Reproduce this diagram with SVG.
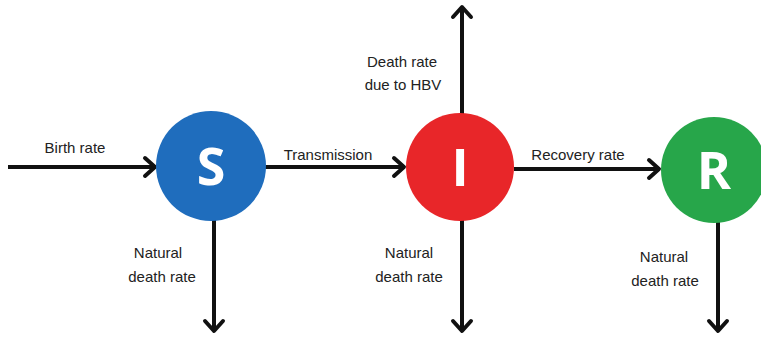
<svg xmlns="http://www.w3.org/2000/svg" width="761" height="338" viewBox="0 0 761 338">
<style>
.lbl{font-family:"Liberation Sans","Open Sans",Arial,sans-serif;font-size:15px;fill:#222;text-anchor:middle}
.node-letter{font-family:"Open Sans","Liberation Sans",Arial,sans-serif;font-weight:bold;font-size:52px;fill:#fff;text-anchor:middle}
.conn{stroke:#111;stroke-width:4;fill:none}
</style>
<defs>
<marker id="arr" viewBox="-14 -12 16 24" markerWidth="16" markerHeight="24" refX="-1" refY="0" orient="auto" markerUnits="userSpaceOnUse">
<path d="M-11,-9 L-1,0 L-11,9" stroke="#111" stroke-width="4" fill="none" stroke-linecap="round" stroke-linejoin="round"/>
</marker>
</defs>
<rect width="761" height="338" fill="#fff"/>
<g id="connectors">
<line class="conn" x1="8" y1="167" x2="155" y2="167" marker-end="url(#arr)"/>
<line class="conn" x1="264" y1="167" x2="404" y2="167" marker-end="url(#arr)"/>
<line class="conn" x1="514" y1="169" x2="659" y2="169" marker-end="url(#arr)"/>
<line class="conn" x1="214" y1="220" x2="214" y2="331" marker-end="url(#arr)"/>
<line class="conn" x1="462" y1="115" x2="462" y2="7" marker-end="url(#arr)"/>
<line class="conn" x1="462" y1="220" x2="462" y2="331" marker-end="url(#arr)"/>
<line class="conn" x1="718" y1="222" x2="718" y2="331" marker-end="url(#arr)"/>
</g>
<g id="labels">
<text class="lbl" x="75" y="153">Birth rate</text>
<text class="lbl" x="328" y="160">Transmission</text>
<text class="lbl" x="578" y="160">Recovery rate</text>
<text class="lbl" x="402" y="67">Death rate</text>
<text class="lbl" x="403" y="90">due to HBV</text>
<text class="lbl" x="158" y="258">Natural</text>
<text class="lbl" x="162" y="282">death rate</text>
<text class="lbl" x="409" y="258">Natural</text>
<text class="lbl" x="409" y="282">death rate</text>
<text class="lbl" x="664" y="262">Natural</text>
<text class="lbl" x="665" y="286">death rate</text>
</g>
<g id="node-S">
<circle cx="211" cy="166" r="55" fill="#1f6dbd"/>
<text class="node-letter" x="211" y="185">S</text>
</g>
<g id="node-I">
<circle cx="460" cy="167" r="54" fill="#e82629"/>
<text class="node-letter" x="460" y="186">I</text>
</g>
<g id="node-R">
<circle cx="714" cy="170" r="53" fill="#27a64a"/>
<text class="node-letter" x="714" y="189">R</text>
</g>
</svg>
